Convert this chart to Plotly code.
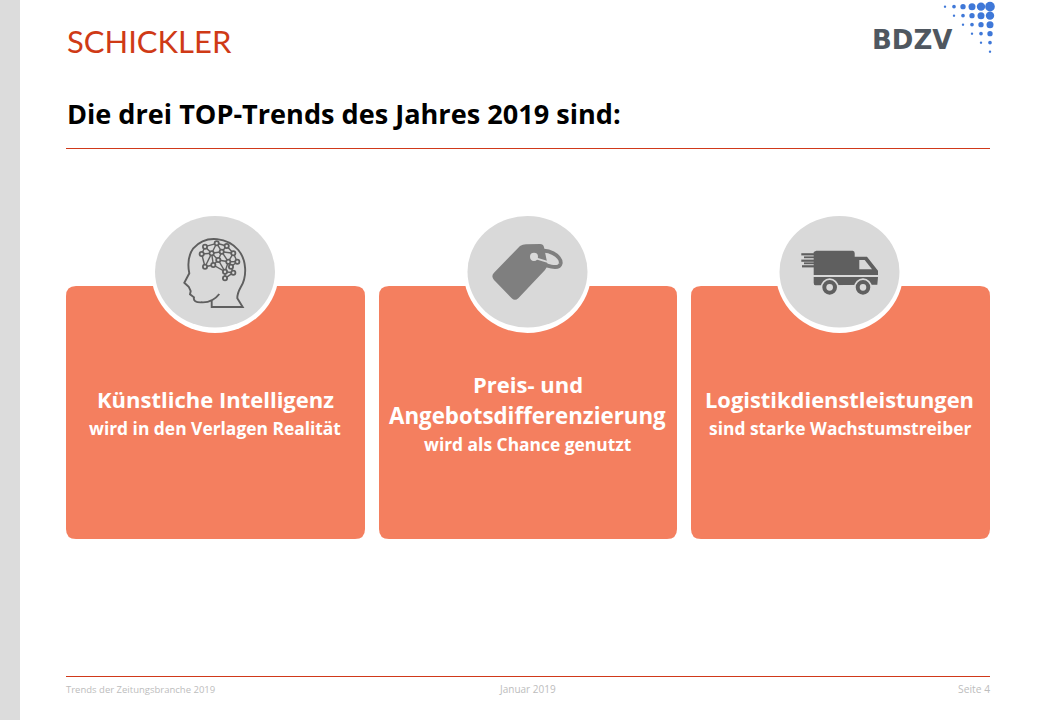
import plotly.graph_objects as go

# ---- slide content ----
logo_left = "SCHICKLER"
logo_right = "BDZV"
slide_title = "Die drei TOP-Trends des Jahres 2019 sind:"
card_heads = [["Künstliche Intelligenz"], ["Preis- und", "Angebotsdifferenzierung"], ["Logistikdienstleistungen"]]
card_subs = ["wird in den Verlagen Realität", "wird als Chance genutzt", "sind starke Wachstumstreiber"]
footer_texts = ["Trends der Zeitungsbranche 2019", "Januar 2019", "Seite 4"]

card_x0 = [66, 379, 691]
card_x1 = [365, 677, 990]
card_cx = [215, 527.5, 839.5]

ORANGE = "#F47F5F"
RED = "#D0391A"
GREY = "#D9D9D9"
ICON = "#5F5F5F"
TAG = "#7F7F7F"

shapes = []
def rect(x0, y0, x1, y1, col):
    shapes.append(dict(type="rect", xref="x", yref="y", x0=x0, y0=y0, x1=x1, y1=y1,
                       fillcolor=col, line=dict(width=0), layer="below"))
def hline(x0, x1, y, col=RED, w=1):
    shapes.append(dict(type="line", xref="x", yref="y", x0=x0, x1=x1, y0=y, y1=y,
                       line=dict(color=col, width=w), layer="below"))
def ell(x0, y0, x1, y1, col):
    shapes.append(dict(type="circle", xref="x", yref="y", x0=x0, y0=y0, x1=x1, y1=y1,
                       fillcolor=col, line=dict(width=0), layer="below"))
def path(d, fill=None, line=None, w=0):
    s = dict(type="path", xref="x", yref="y", path=d, layer="below")
    s["fillcolor"] = fill if fill else "rgba(0,0,0,0)"
    s["line"] = dict(color=line, width=w) if line else dict(width=0)
    shapes.append(s)
def rrect(x0, y0, x1, y1, r, col):
    path(f"M{x0+r},{y0} L{x1-r},{y0} Q{x1},{y0} {x1},{y0+r} L{x1},{y1-r} Q{x1},{y1} {x1-r},{y1} "
         f"L{x0+r},{y1} Q{x0},{y1} {x0},{y1-r} L{x0},{y0+r} Q{x0},{y0} {x0+r},{y0} Z", fill=col)

# frame
rect(0, 0, 20, 720, "#DCDCDC")
hline(66, 990, 148.5)
hline(66, 990, 676.5)

# cards and medallions
for a, b, c in zip(card_x0, card_x1, card_cx):
    rrect(a, 286, b, 539, 10, ORANGE)
    ell(c - 64, 209, c + 64, 333, "white")
    ell(c - 60, 216, c + 60, 327.5, GREY)

# --- brain icon (zoom coords /3 + origin 150,210)
def bx(v): return round(150 + v / 3, 1)
def by(v): return round(210 + v / 3, 1)
head = ("M%s,%s L%s,%s L%s,%s " % (bx(185), by(270), bx(185), by(291), bx(278), by(291)) +
        "L%s,%s " % (bx(262), by(265)) +
        "Q%s,%s %s,%s " % (bx(262), by(250), bx(272), by(232)) +
        "C%s,%s %s,%s %s,%s " % (bx(292), by(200), bx(290), by(150), bx(265), by(120)) +
        "C%s,%s %s,%s %s,%s " % (bx(235), by(85), bx(170), by(70), bx(130), by(115)) +
        "C%s,%s %s,%s %s,%s " % (bx(112), by(140), bx(115), by(175), bx(118), by(190)) +
        "L%s,%s L%s,%s L%s,%s L%s,%s L%s,%s " % (bx(103), by(218), bx(116), by(230), bx(122), by(243), bx(120), by(253), bx(132), by(262)) +
        "Q%s,%s %s,%s " % (bx(128), by(278), bx(155), by(277)) +
        "C%s,%s %s,%s %s,%s" % (bx(180), by(278), bx(198), by(265), bx(208), by(252)))
path(head, line=ICON, w=1.9)

brain_nodes = {"a": (165, 110), "b": (200, 100), "c": (230, 108), "d": (155, 132), "e": (185, 130),
               "f": (215, 125), "g": (250, 130), "h": (165, 170), "i": (205, 150), "j": (235, 155),
               "k": (262, 155), "l": (190, 165), "m": (225, 185), "n": (250, 188), "o": (225, 205), "p": (243, 170)}
brain_edges = ["ab", "bc", "ad", "ae", "be", "bf", "cf", "cg", "de", "dh", "ei", "ef", "fi", "fg", "fj", "gj", "gk",
               "hl", "el", "li", "ij", "jk", "jp", "pn", "pk", "im", "lm", "mn", "mo", "no", "jm", "he"]
for e in brain_edges:
    p, q = brain_nodes[e[0]], brain_nodes[e[1]]
    path(f"M{bx(p[0])},{by(p[1])} L{bx(q[0])},{by(q[1])}", line=ICON, w=1.4)
for p in brain_nodes.values():
    ell(bx(p[0]) - 3, by(p[1]) - 3, bx(p[0]) + 3, by(p[1]) + 3, ICON)
    ell(bx(p[0]) - 1.2, by(p[1]) - 1.2, bx(p[0]) + 1.2, by(p[1]) + 1.2, GREY)

# --- price tag icon (origin 460,210)
def tx(v): return round(460 + v / 3, 1)
def ty(v): return round(210 + v / 3, 1)
path(f"M{tx(198)},{ty(103)} L{tx(240)},{ty(102)} Q{tx(250)},{ty(102)} {tx(252)},{ty(112)} L{tx(262)},{ty(160)} "
     f"Q{tx(263)},{ty(172)} {tx(255)},{ty(180)} L{tx(175)},{ty(265)} Q{tx(165)},{ty(274)} {tx(155)},{ty(265)} "
     f"L{tx(102)},{ty(210)} Q{tx(92)},{ty(198)} {tx(102)},{ty(188)} L{tx(180)},{ty(108)} Q{tx(188)},{ty(103)} {tx(198)},{ty(103)} Z",
     fill=TAG)
# ring
path(f"M{tx(232)},{ty(128)} C{tx(262)},{ty(110)} {tx(305)},{ty(140)} {tx(302)},{ty(160)} "
     f"C{tx(298)},{ty(180)} {tx(255)},{ty(170)} {tx(232)},{ty(150)}", line=TAG, w=3.8)
ell(tx(210), ty(128), tx(234), ty(153), GREY)
path(f"M{tx(228)},{ty(145)} L{tx(270)},{ty(158)}", line=GREY, w=1.8)

# --- truck icon (origin 772,210)
def vx(v): return round(772 + v / 3, 1)
def vy(v): return round(210 + v / 3, 1)
path(f"M{vx(133)},{vy(122)} L{vx(242)},{vy(122)} Q{vx(248)},{vy(122)} {vx(248)},{vy(130)} L{vx(248)},{vy(140)} L{vx(285)},{vy(140)} "
     f"L{vx(318)},{vy(182)} L{vx(318)},{vy(195)} L{vx(125)},{vy(195)} L{vx(125)},{vy(126)} Z", fill=ICON)
path(f"M{vx(262)},{vy(150)} L{vx(278)},{vy(150)} L{vx(300)},{vy(178)} L{vx(262)},{vy(178)} Z", fill=GREY)
path(f"M{vx(125)},{vy(201)} L{vx(318)},{vy(201)} L{vx(316)},{vy(224)} L{vx(130)},{vy(226)} Q{vx(125)},{vy(226)} {vx(125)},{vy(218)} Z", fill=ICON)
for x0, x1, y, w in [(88, 126, 133, 2.2), (96, 126, 142, 1.8), (88, 126, 152, 2.2), (96, 126, 160, 1.8), (90, 126, 169, 2.2)]:
    path(f"M{vx(x0)},{vy(y)} L{vx(x1)},{vy(y)}", line=ICON, w=w)
for wx in (173, 273):
    ell(vx(wx - 27), vy(232 - 27), vx(wx + 27), vy(232 + 27), GREY)
    ell(vx(wx - 22), vy(232 - 22), vx(wx + 22), vy(232 + 22), ICON)
    ell(vx(wx - 10), vy(232 - 10), vx(wx + 10), vy(232 + 10), GREY)

# ---- text ----
F = "Open Sans"
ann = []
def text(x, y, t, size, col, anchor="left", font=F, weight=None):
    f = dict(family=font, size=size, color=col)
    if weight:
        f["weight"] = weight
    ann.append(dict(x=x, y=y, xref="x", yref="y", text=t, showarrow=False, xanchor=anchor, yanchor="middle",
                    align="center" if anchor == "center" else anchor, font=f,
                    borderpad=0, borderwidth=0))

text(67, 40.5, logo_left, 31, "#CF3A16", font="Lato")
text(872, 39.5, logo_right, 26, "#4F5760", font="DejaVu Sans", weight=700)
text(67, 113, slide_title, 27.1, "black", weight=700)

head_y = [[399], [384, 415], [399]]
head_size = [[22], [22, 22.3], [21.9]]
sub_y = [428, 444, 428]
for c, hl, s, hy, sy, hs in zip(card_cx, card_heads, card_subs, head_y, sub_y, head_size):
    for line, y, size in zip(hl, hy, hs):
        text(c, y, line, size, "white", "center", weight=700)
    text(c, sy, s, 17.4, "white", "center", weight=700)

text(66, 689, footer_texts[0], 9.5, "#BDBDBD")
text(527.5, 689, footer_texts[1], 10, "#BDBDBD", "center")
text(990, 689, footer_texts[2], 10.3, "#BDBDBD", "right")

# BDZV dot matrix (zoom coords /3 + origin 860,0): column, row, diameter in zoom pixels
dot_cols = [255, 282, 309, 336, 363, 390]
dot_rows = [20, 47, 74, 101, 128, 155]
dot_sizes = [
    [7, 11, 16, 21, 25, 29],
    [0, 7, 11, 16, 21, 25],
    [0, 0, 7, 11, 16, 21],
    [0, 0, 0, 7, 11, 16],
    [0, 0, 0, 0, 7, 11],
    [0, 0, 0, 0, 0, 7],
]
dx, dy, ds = [], [], []
for r, row in zip(dot_rows, dot_sizes):
    for c, sz in zip(dot_cols, row):
        if sz:
            dx.append(860 + c / 3); dy.append(r / 3); ds.append(sz / 3)

fig = go.Figure(go.Scatter(x=dx, y=dy, mode="markers", hoverinfo="skip",
                           marker=dict(size=ds, color="#3F78D8", opacity=1, line=dict(width=0))))
fig.update_layout(
    width=1040, height=720, margin=dict(l=0, r=0, t=0, b=0), showlegend=False,
    paper_bgcolor="white", plot_bgcolor="white", shapes=shapes, annotations=ann,
    xaxis=dict(range=[0, 1040], visible=False, fixedrange=True),
    yaxis=dict(range=[720, 0], visible=False, fixedrange=True),
)
fig.write_html("out.html", config={"displayModeBar": False},
               post_script="document.body.style.margin='0';document.documentElement.style.overflow='hidden';")
